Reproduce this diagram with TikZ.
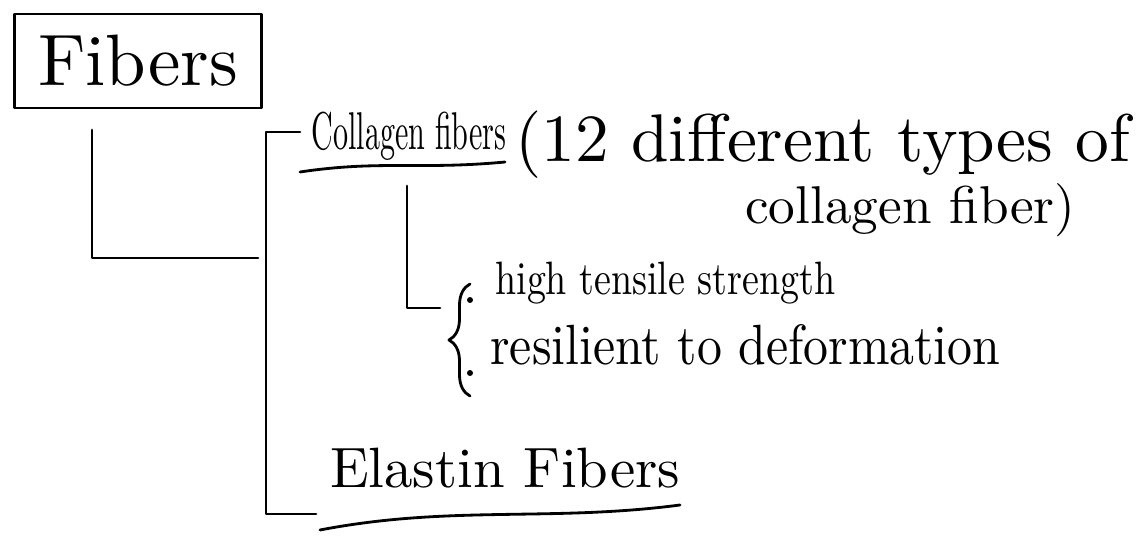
\documentclass[tikz,border=0pt]{standalone}
\usetikzlibrary{decorations.pathreplacing}
\begin{document}
\begin{tikzpicture}[x=0.02cm,y=-0.02cm,
  ink/.style={line width=1.6pt, line cap=round, line join=round},
  lbl/.style={inner sep=0pt},
  dot/.style={circle, fill, inner sep=0pt, minimum size=0.12cm}]
\useasboundingbox (0,0) rectangle (1140,551);
% title box
\node[draw, ink, minimum width=4.94cm, minimum height=1.88cm] (fibers) at (138,61) {\resizebox{4cm}{!}{Fibers}};
% texts
\node[lbl] (coll) at (409,136) {\resizebox{3.9cm}{0.75cm}{Collagen fibers}};
\node[lbl, anchor=west] (note1) at (515,145) {\resizebox{12.3cm}{!}{(12 different types of}};
\node[lbl, anchor=west] (note2) at (745,210) {\resizebox{6.6cm}{!}{collagen fiber)}};
\node[dot] (b1) at (470,300) {};
\node[dot] (b2) at (470,373) {};
\node[lbl, anchor=west] (high) at (495,283) {\resizebox{6.8cm}{0.65cm}{high tensile strength}};
\node[lbl, anchor=west] (resil) at (490,345) {\resizebox{10.2cm}{0.8cm}{resilient to deformation}};
\node[lbl] (elastin) at (505,468) {\resizebox{7cm}{!}{Elastin Fibers}};
% underlines
\draw[ink] (300,172) .. controls (380,160) and (420,170) .. (505,162);
\draw[ink] (320,530) .. controls (450,505) and (550,522) .. (680,505);
% connector from Fibers box
\coordinate (s) at (92,130);
\coordinate (j) at (258,258);
\draw[ink] (s) |- (j);
% main bracket
\coordinate (t) at (300,132);
\coordinate (bb) at (316,514);
\draw[ink] (t) -- (266,132) -- (266,514) -- (bb);
% sub bracket
\coordinate (u) at (407,186);
\coordinate (v) at (440,308);
\draw[ink] (u) |- (v);
% brace
\draw[ink, decorate, decoration={brace, amplitude=0.42cm}] (470,396) -- (470,284);
\end{tikzpicture}
\end{document}
